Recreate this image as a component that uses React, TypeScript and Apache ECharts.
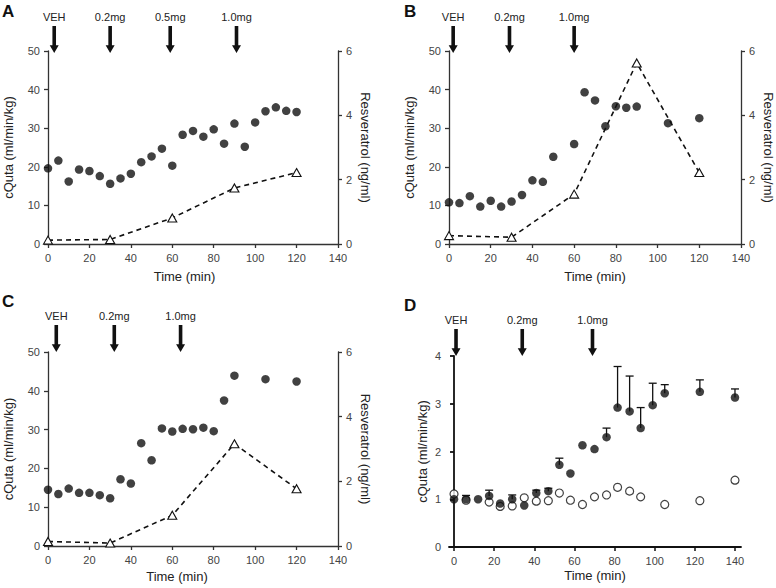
import React, { useEffect, useRef } from "react";
import * as echarts from "echarts";

const FONT = "'Liberation Sans', Arial, Helvetica, sans-serif";

// Panel A
const timesA = [0, 5, 10, 15, 20, 25, 30, 35, 40, 45, 50, 55, 60, 65, 70, 75, 80, 85, 90, 95, 100, 105, 110, 115, 120];
const cqutaA = [19.6, 21.6, 16.2, 19.3, 18.9, 17.6, 15.6, 17.0, 18.2, 21.2, 22.7, 24.7, 20.3, 28.3, 29.3, 27.8, 29.7, 26.0, 31.2, 25.2, 31.5, 34.4, 35.4, 34.5, 34.2];
const resvTimes = [0, 30, 60, 90, 120];
const resvA = [0.12, 0.14, 0.81, 1.74, 2.22];
const doseTimesA = [3, 30, 59, 91];
const doseLabelsA = ["VEH", "0.2mg", "0.5mg", "1.0mg"];

// Panel B
const timesB = [0, 5, 10, 15, 20, 25, 30, 35, 40, 45, 50, 60, 65, 70, 75, 80, 85, 90, 105, 120];
const cqutaB = [10.8, 10.6, 12.4, 9.7, 11.2, 9.7, 11.0, 12.7, 16.5, 16.1, 22.6, 25.9, 39.3, 37.2, 30.5, 35.7, 35.3, 35.6, 31.3, 32.6];
const resvB = [0.26, 0.21, 1.55, 5.63, 2.22];
const doseTimesB = [2, 29, 60];
const doseLabelsB = ["VEH", "0.2mg", "1.0mg"];

// Panel C
const timesC = [0, 5, 10, 15, 20, 25, 30, 35, 40, 45, 50, 55, 60, 65, 70, 75, 80, 85, 90, 105, 120];
const cqutaC = [14.5, 13.4, 14.8, 13.7, 13.7, 13.1, 12.3, 17.2, 16.1, 26.5, 22.1, 30.3, 29.5, 30.2, 30.1, 30.5, 29.6, 37.5, 43.9, 43.0, 42.4];
const resvC = [0.14, 0.09, 0.95, 3.16, 1.77];
const doseTimesC = [4, 32, 64];
const doseLabelsC = ["VEH", "0.2mg", "1.0mg"];

// Panel D
const timesD = [0, 6, 12, 17.5, 23, 29, 35, 41, 47, 52.5, 58, 64, 70, 76, 81.5, 87.5, 93, 99, 105, 122.5, 140];
const filledD = [1.0, 1.0, 1.0, 1.07, 0.91, 1.0, 0.87, 1.13, 1.17, 1.72, 1.54, 2.13, 2.05, 2.3, 2.92, 2.84, 2.49, 2.97, 3.22, 3.25, 3.13];
const errTopD = [null, 1.08, null, 1.19, null, 1.09, null, 1.19, 1.23, 1.86, null, null, null, 2.49, 3.78, 3.58, 2.92, 3.43, 3.4, 3.5, 3.31];
const openD = [1.11, 0.98, null, 0.94, 0.85, 0.86, 1.03, 0.96, 0.97, 1.13, 0.98, 0.89, 1.05, 1.09, 1.25, 1.17, 1.05, null, 0.89, 0.97, 1.4];
const doseTimesD = [1, 34, 69];
const doseLabelsD = ["VEH", "0.2mg", "1.0mg"];
const xTicks = [0, 20, 40, 60, 80, 100, 120, 140];

const ARROW = "path://M2.7,0L6.3,0L6.3,18.5L9,18.5L4.5,26L0,18.5L2.7,18.5Z";
const AX = "#333";
const LBL = "#444";

function axisBase(color: string, width: number) {
  return {
    nameMoveOverlap: false,
    axisLine: { show: true, lineStyle: { color, width } },
    axisTick: { show: true, length: 4, lineStyle: { color, width } },
    axisLabel: { fontSize: 11, color: LBL, fontFamily: FONT },
    splitLine: { show: false },
  };
}

function markArrows(times: number[], labels: string[], yTop: number, offY: number) {
  return {
    symbol: ARROW,
    symbolSize: [9, 27],
    symbolOffset: [0, offY],
    silent: true,
    itemStyle: { color: "#111" },
    label: {
      show: true,
      position: "top",
      distance: 4,
      formatter: "{b}",
      fontSize: 11,
      color: "#222",
      fontFamily: FONT,
    },
    data: times.map((t, i) => ({ name: labels[i], coord: [t, yTop] })),
  };
}

export default function App() {
  const ref = useRef<HTMLDivElement>(null);
  useEffect(() => {
    if (!ref.current) return;
    const chart = echarts.init(ref.current, null, { renderer: "svg" });
    const grids = [
      { left: 48, top: 51, width: 290, height: 193 },
      { left: 449, top: 51, width: 292, height: 193 },
      { left: 48, top: 352, width: 290, height: 194 },
      { left: 449, top: 356, width: 292, height: 191 },
    ];
    const namePads = [[0, 17, 0, 0], [0, 0, 0, 0], [0, 32, 0, 0]];
    const nameStyle = { fontSize: 13, color: "#222", fontFamily: FONT };
    const xAxes: any[] = [0, 1, 2].map((g) => ({
      type: "value",
      gridIndex: g,
      min: 0,
      max: 140,
      interval: 20,
      ...axisBase(AX, 1.3),
      name: "Time (min)",
      nameLocation: "middle",
      nameGap: g === 2 ? 24 : 26,
      nameTextStyle: { ...nameStyle, padding: namePads[g] },
    }));
    xAxes.push({
      type: "value",
      gridIndex: 3,
      min: -2.5,
      max: 143,
      ...axisBase("#111", 1.8),
      axisTick: { show: true, length: 4, customValues: xTicks, lineStyle: { color: "#111", width: 1.5 } },
      axisLabel: { fontSize: 11, color: LBL, fontFamily: FONT, customValues: xTicks },
      name: "Time (min)",
      nameLocation: "middle",
      nameGap: 22,
      nameTextStyle: nameStyle,
    });
    const yAxes: any[] = [];
    [0, 1, 2].forEach((g) => {
      yAxes.push({
        type: "value",
        gridIndex: g,
        position: "left",
        min: 0,
        max: 50,
        interval: 10,
        ...axisBase(AX, 1.3),
        name: "cQuta (ml/min/kg)",
        nameLocation: "middle",
        nameRotate: 90,
        nameGap: 33,
        nameTextStyle: nameStyle,
      });
      yAxes.push({
        type: "value",
        gridIndex: g,
        position: "right",
        min: 0,
        max: 6,
        interval: 2,
        ...axisBase(AX, 1.3),
        name: "Resveratrol (ng/ml)",
        nameLocation: "middle",
        nameRotate: -90,
        nameGap: 21,
        nameTextStyle: nameStyle,
      });
    });
    yAxes.push({
      type: "value",
      gridIndex: 3,
      position: "left",
      min: 0,
      max: 4,
      interval: 1,
      ...axisBase("#111", 1.8),
      name: "cQuta (ml/min/kg)",
      nameLocation: "middle",
      nameRotate: 90,
      nameGap: 20,
      nameTextStyle: nameStyle,
    });

    const panels = [
      { t: timesA, c: cqutaA, r: resvA, dt: doseTimesA, dl: doseLabelsA, off: -11.5 },
      { t: timesB, c: cqutaB, r: resvB, dt: doseTimesB, dl: doseLabelsB, off: -11.5 },
      { t: timesC, c: cqutaC, r: resvC, dt: doseTimesC, dl: doseLabelsC, off: -13.5 },
    ];
    const series: any[] = [];
    panels.forEach((p, g) => {
      series.push({
        type: "line",
        xAxisIndex: g,
        yAxisIndex: g * 2 + 1,
        data: resvTimes.map((t, i) => [t, p.r[i]]),
        symbol: "triangle",
        symbolSize: [9, 8],
        showSymbol: true,
        lineStyle: { color: "#111", width: 1.6, type: [5, 4] },
        itemStyle: { color: "#fff", borderColor: "#111", borderWidth: 1.1 },
        z: 2,
      });
      series.push({
        type: "scatter",
        xAxisIndex: g,
        yAxisIndex: g * 2,
        data: p.t.map((t, i) => [t, p.c[i]]),
        symbol: "circle",
        symbolSize: 8.5,
        itemStyle: { color: "#111" },
        markPoint: markArrows(p.dt, p.dl, 50, p.off),
        z: 3,
      });
    });
    series.push({
      type: "custom",
      xAxisIndex: 3,
      yAxisIndex: 6,
      data: timesD.map((t, i) => [t, filledD[i], errTopD[i]]).filter((d) => d[2] != null),
      renderItem: (params: any, api: any) => {
        const p0 = api.coord([api.value(0), api.value(1)]);
        const p1 = api.coord([api.value(0), api.value(2)]);
        const st = { stroke: "#111", lineWidth: 1.3 };
        return {
          type: "group",
          children: [
            { type: "line", shape: { x1: p0[0], y1: p0[1], x2: p1[0], y2: p1[1] }, style: st },
            { type: "line", shape: { x1: p1[0] - 4, y1: p1[1], x2: p1[0] + 4, y2: p1[1] }, style: st },
          ],
        };
      },
      z: 1,
    });
    series.push({
      type: "scatter",
      xAxisIndex: 3,
      yAxisIndex: 6,
      data: timesD.map((t, i) => [t, openD[i]]).filter((d) => d[1] != null),
      symbol: "circle",
      symbolSize: 8,
      itemStyle: { color: "#fff", borderColor: "#111", borderWidth: 1.2 },
      z: 2,
    });
    series.push({
      type: "scatter",
      xAxisIndex: 3,
      yAxisIndex: 6,
      data: timesD.map((t, i) => [t, filledD[i]]),
      symbol: "circle",
      symbolSize: 8.5,
      itemStyle: { color: "#111" },
      markPoint: markArrows(doseTimesD, doseLabelsD, 4, -13.5),
      z: 3,
    });

    const letter = (txt: string, x: number, y: number) => ({
      type: "text",
      left: x,
      top: y,
      style: { text: txt, fontSize: 17, fontWeight: "bold", fill: "#111", fontFamily: FONT },
    });

    chart.setOption({
      animation: false,
      backgroundColor: "#fff",
      grid: grids,
      xAxis: xAxes,
      yAxis: yAxes,
      series,
      graphic: [letter("A", 2, 3), letter("B", 404, 3), letter("C", 2, 293), letter("D", 404, 297)],
    });
    return () => chart.dispose();
  }, []);
  return <div ref={ref} style={{ position: "absolute", left: 0, top: 0, width: 776, height: 588 }} />;
}
